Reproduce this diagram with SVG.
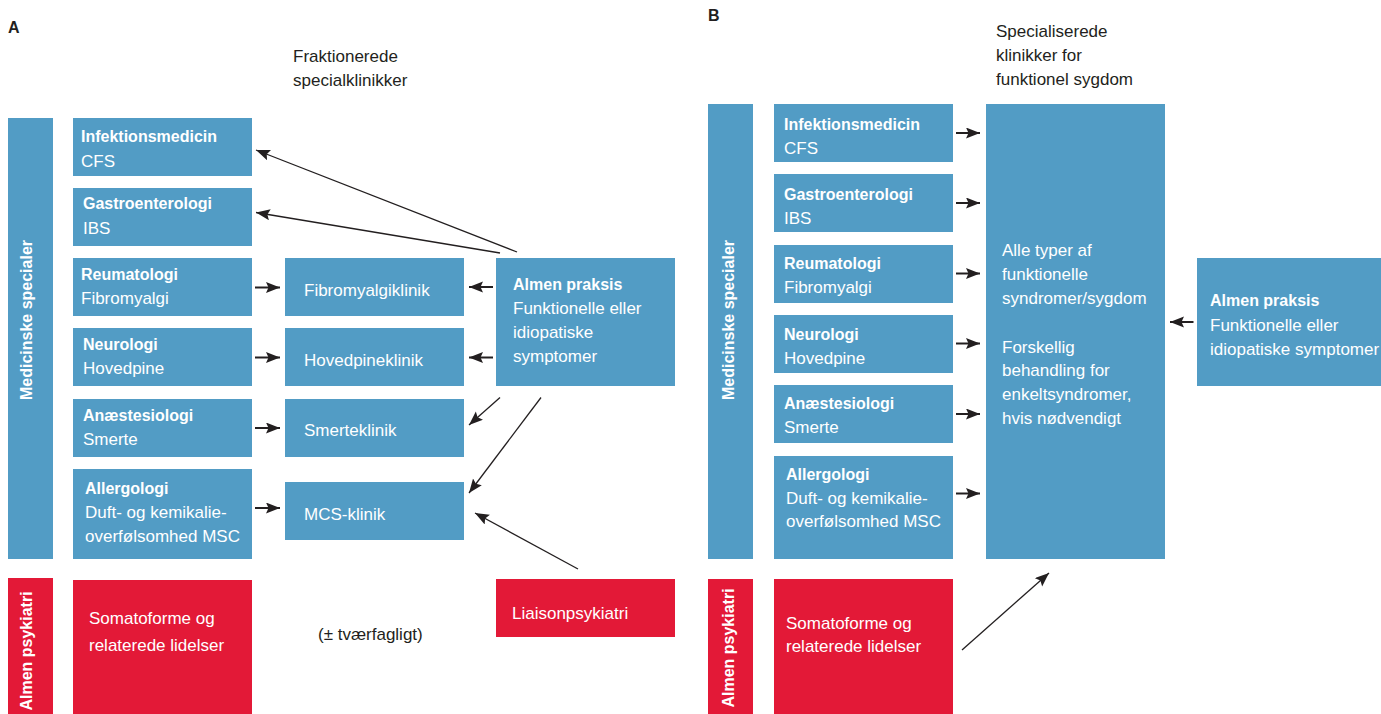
<svg xmlns="http://www.w3.org/2000/svg" width="1381" height="714" viewBox="0 0 1381 714">
<style>
.b{fill:#529cc5}
.r{fill:#e31937}
text{font-family:"Liberation Sans",Arial,sans-serif}
.t{fill:#fff;font-size:17px}
.tb{fill:#fff;font-size:16px;font-weight:bold}
.k{fill:#231f20;font-size:17px}
.kb{fill:#231f20;font-size:16px;font-weight:bold}
.vt{fill:#fff;font-size:16px;font-weight:bold;text-anchor:middle}
.ln{stroke:#231f20;stroke-width:1.3;fill:none;marker-end:url(#ah)}
.sh{stroke:#231f20;stroke-width:2;fill:none;marker-end:url(#ah)}
</style>
<defs>
<marker id="ah" markerUnits="userSpaceOnUse" markerWidth="15" markerHeight="12" refX="14" refY="5.5" orient="auto">
<path d="M0,0 L14,5.5 L0,11 L2.5,5.5 z" fill="#231f20"/>
</marker>
</defs>
<rect width="1381" height="714" fill="#fff"/>

<!-- Panel A -->
<text class="kb" x="8" y="33">A</text>
<text class="k" x="293" y="62">Fraktionerede</text>
<text class="k" x="293" y="86">specialklinikker</text>

<g id="a-medicinske">
<rect class="b" x="8" y="118" width="45" height="441"/>
<text class="vt" transform="translate(31.5,320) rotate(-90)">Medicinske specialer</text>
</g>
<g id="a-psykiatri">
<rect class="r" x="8" y="578" width="45" height="136"/>
<text class="vt" transform="translate(31.5,651) rotate(-90)">Almen psykiatri</text>
</g>
<g id="a-infektion">
<rect class="b" x="73" y="118" width="179" height="58"/>
<text class="tb" x="81" y="142">Infektionsmedicin</text>
<text class="t" x="81" y="166.5">CFS</text>
</g>
<g id="a-gastro">
<rect class="b" x="73" y="188" width="179" height="58"/>
<text class="tb" x="83" y="209">Gastroenterologi</text>
<text class="t" x="83" y="233.5">IBS</text>
</g>
<g id="a-reuma">
<rect class="b" x="73" y="258" width="179" height="58"/>
<text class="tb" x="81" y="280">Reumatologi</text>
<text class="t" x="81" y="303.5">Fibromyalgi</text>
</g>
<g id="a-neuro">
<rect class="b" x="73" y="328" width="179" height="58"/>
<text class="tb" x="83" y="350">Neurologi</text>
<text class="t" x="83" y="374">Hovedpine</text>
</g>
<g id="a-anaest">
<rect class="b" x="73" y="399" width="179" height="58"/>
<text class="tb" x="83" y="420.5">Anæstesiologi</text>
<text class="t" x="83" y="445">Smerte</text>
</g>
<g id="a-allergo">
<rect class="b" x="73" y="469" width="179" height="90"/>
<text class="tb" x="85" y="494">Allergologi</text>
<text class="t" x="85" y="518">Duft- og kemikalie-</text>
<text class="t" x="85" y="541.5">overfølsomhed MSC</text>
</g>
<g id="a-somato">
<rect class="r" x="73" y="580" width="179" height="134"/>
<text class="t" x="89" y="624">Somatoforme og</text>
<text class="t" x="89" y="650.5">relaterede lidelser</text>
</g>
<g id="a-fibroklinik">
<rect class="b" x="285" y="258" width="179" height="58"/>
<text class="t" x="304" y="296">Fibromyalgiklinik</text>
</g>
<g id="a-hovedklinik">
<rect class="b" x="285" y="328" width="179" height="58"/>
<text class="t" x="304" y="366">Hovedpineklinik</text>
</g>
<g id="a-smerteklinik">
<rect class="b" x="285" y="399" width="179" height="58"/>
<text class="t" x="304" y="436">Smerteklinik</text>
</g>
<g id="a-mcs">
<rect class="b" x="285" y="482" width="179" height="58"/>
<text class="t" x="304" y="519.5">MCS-klinik</text>
</g>
<g id="a-almen">
<rect class="b" x="496" y="258" width="179" height="128"/>
<text class="tb" x="513" y="289.5">Almen praksis</text>
<text class="t" x="513" y="313.5">Funktionelle eller</text>
<text class="t" x="513" y="337.5">idiopatiske</text>
<text class="t" x="513" y="361.5">symptomer</text>
</g>
<g id="a-liaison">
<rect class="r" x="496" y="579" width="179" height="58"/>
<text class="t" x="512" y="618.5">Liaisonpsykiatri</text>
</g>
<text class="k" x="318" y="639.5">(± tværfagligt)</text>

<!-- Panel B -->
<text class="kb" x="708" y="21">B</text>
<text class="k" x="996" y="37">Specialiserede</text>
<text class="k" x="996" y="61">klinikker for</text>
<text class="k" x="996" y="85">funktionel sygdom</text>

<g id="b-medicinske">
<rect class="b" x="708" y="104" width="45" height="455"/>
<text class="vt" transform="translate(734,320) rotate(-90)">Medicinske specialer</text>
</g>
<g id="b-psykiatri">
<rect class="r" x="708" y="579" width="45" height="135"/>
<text class="vt" transform="translate(734,648) rotate(-90)">Almen psykiatri</text>
</g>
<g id="b-infektion">
<rect class="b" x="774" y="104" width="179" height="58"/>
<text class="tb" x="784" y="130">Infektionsmedicin</text>
<text class="t" x="784" y="154">CFS</text>
</g>
<g id="b-gastro">
<rect class="b" x="774" y="174" width="179" height="58"/>
<text class="tb" x="784" y="200">Gastroenterologi</text>
<text class="t" x="784" y="224">IBS</text>
</g>
<g id="b-reuma">
<rect class="b" x="774" y="245" width="179" height="58"/>
<text class="tb" x="784" y="268.5">Reumatologi</text>
<text class="t" x="784" y="292.5">Fibromyalgi</text>
</g>
<g id="b-neuro">
<rect class="b" x="774" y="315" width="179" height="58"/>
<text class="tb" x="784" y="340">Neurologi</text>
<text class="t" x="784" y="363.5">Hovedpine</text>
</g>
<g id="b-anaest">
<rect class="b" x="774" y="385" width="179" height="58"/>
<text class="tb" x="784" y="408.5">Anæstesiologi</text>
<text class="t" x="784" y="432.5">Smerte</text>
</g>
<g id="b-allergo">
<rect class="b" x="774" y="456" width="179" height="103"/>
<text class="tb" x="786" y="479.5">Allergologi</text>
<text class="t" x="786" y="503.5">Duft- og kemikalie-</text>
<text class="t" x="786" y="527">overfølsomhed MSC</text>
</g>
<g id="b-somato">
<rect class="r" x="774" y="579" width="179" height="135"/>
<text class="t" x="786" y="628.5">Somatoforme og</text>
<text class="t" x="786" y="652">relaterede lidelser</text>
</g>
<g id="b-klinik">
<rect class="b" x="986" y="104" width="179" height="455"/>
<text class="t" x="1002" y="256">Alle typer af</text>
<text class="t" x="1002" y="280">funktionelle</text>
<text class="t" x="1002" y="304">syndromer/sygdom</text>
<text class="t" x="1002" y="352.5">Forskellig</text>
<text class="t" x="1002" y="376">behandling for</text>
<text class="t" x="1002" y="400">enkeltsyndromer,</text>
<text class="t" x="1002" y="423.5">hvis nødvendigt</text>
</g>
<g id="b-almen">
<rect class="b" x="1197" y="258" width="184" height="128"/>
<text class="tb" x="1210" y="306">Almen praksis</text>
<text class="t" x="1210" y="330.5">Funktionelle eller</text>
<text class="t" x="1210" y="354.5">idiopatiske symptomer</text>
</g>

<g id="connectors">
<!-- A: Almen praksis to specialties -->
<line class="ln" x1="517" y1="252" x2="256" y2="150"/>
<line class="ln" x1="500" y1="253" x2="256" y2="212.5"/>
<line class="sh" x1="493" y1="287" x2="469" y2="287"/>
<line class="sh" x1="493" y1="357.5" x2="469" y2="357.5"/>
<line class="ln" x1="500" y1="397.5" x2="469" y2="425"/>
<line class="ln" x1="541" y1="397.5" x2="469" y2="493"/>
<line class="ln" x1="578" y1="569" x2="475" y2="513"/>
<!-- A: specialties to clinics -->
<line class="sh" x1="255" y1="287.5" x2="280" y2="287.5"/>
<line class="sh" x1="255" y1="357.5" x2="280" y2="357.5"/>
<line class="sh" x1="255" y1="428" x2="280" y2="428"/>
<line class="sh" x1="255" y1="508" x2="280" y2="508"/>
<!-- B: specialties to clinic -->
<line class="sh" x1="956" y1="133" x2="980" y2="133"/>
<line class="sh" x1="956" y1="203" x2="980" y2="203"/>
<line class="sh" x1="956" y1="273.5" x2="980" y2="273.5"/>
<line class="sh" x1="956" y1="343.5" x2="980" y2="343.5"/>
<line class="sh" x1="956" y1="414" x2="980" y2="414"/>
<line class="sh" x1="956" y1="493.5" x2="980" y2="493.5"/>
<line class="ln" x1="962" y1="650" x2="1049" y2="573"/>
<line class="sh" x1="1193.5" y1="322" x2="1170" y2="322"/>
</g>
</svg>
